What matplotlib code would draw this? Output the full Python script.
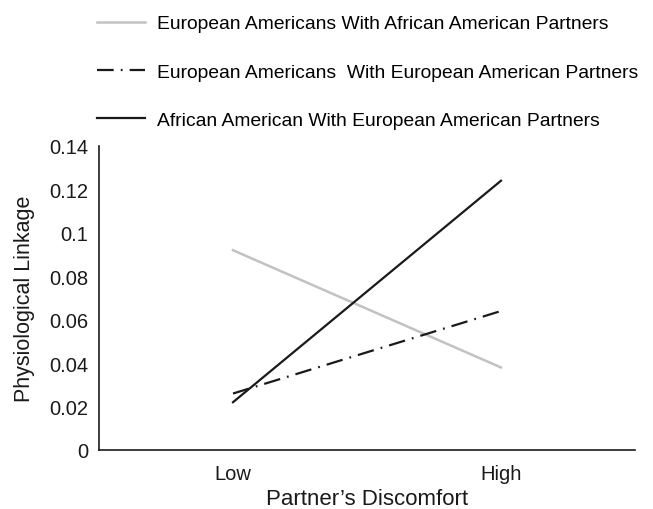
import matplotlib
matplotlib.use("Agg")
import matplotlib.pyplot as plt

plt.rcParams['font.family'] = ['Liberation Sans Narrow', 'Liberation Sans', 'DejaVu Sans']

categories = ["Low", "High"]
ea_with_aa = [0.092, 0.038]
ea_with_ea = [0.026, 0.064]
aa_with_ea = [0.022, 0.124]
labels = ["European Americans With African American Partners",
          "European Americans  With European American Partners",
          "African American With European American Partners"]
y_ticks = [0, 0.02, 0.04, 0.06, 0.08, 0.1, 0.12, 0.14]
y_ticklabels = ["0", "0.02", "0.04", "0.06", "0.08", "0.1", "0.12", "0.14"]

fig = plt.figure(figsize=(6.53, 5.10), dpi=100)
ax = fig.add_axes([0.1516, 0.1157, 0.8208, 0.5961])

x = list(range(len(categories)))
l1, = ax.plot(x, ea_with_aa, color='#c2c2c2', lw=1.8, label=labels[0])
l2, = ax.plot(x, ea_with_ea, color='#1a1a1a', lw=1.6, linestyle=(0, (7.5, 3.2, 0.8, 3.2)), label=labels[1])
l3, = ax.plot(x, aa_with_ea, color='#1a1a1a', lw=1.6, label=labels[2])

ax.set_xlim(-0.5, 1.5)
ax.set_ylim(0, 0.14)
ax.set_xticks(x)
ax.set_xticklabels(categories)
ax.set_yticks(y_ticks)
ax.set_yticklabels(y_ticklabels)
ax.tick_params(length=0, labelsize=14.5, colors='#1a1a1a')
ax.tick_params(axis='y', pad=8)
ax.tick_params(axis='x', pad=10)
for s in ['top', 'right']:
    ax.spines[s].set_visible(False)
for s in ['left', 'bottom']:
    ax.spines[s].set_linewidth(1.2)
    ax.spines[s].set_color('#1a1a1a')
ax.set_xlabel("Partner\u2019s Discomfort", fontsize=16, color='#1a1a1a', labelpad=4)
ax.set_ylabel("Physiological Linkage", fontsize=15.5, color='#1a1a1a', labelpad=10)

fig.legend(handles=[l1, l2, l3], loc='upper left', bbox_to_anchor=(0.1485, 0.969),
           frameon=False, fontsize=13.9, handlelength=2.5, handletextpad=0.6,
           labelspacing=1.6, borderpad=0, borderaxespad=0)

fig.savefig('out.png', dpi=100)
